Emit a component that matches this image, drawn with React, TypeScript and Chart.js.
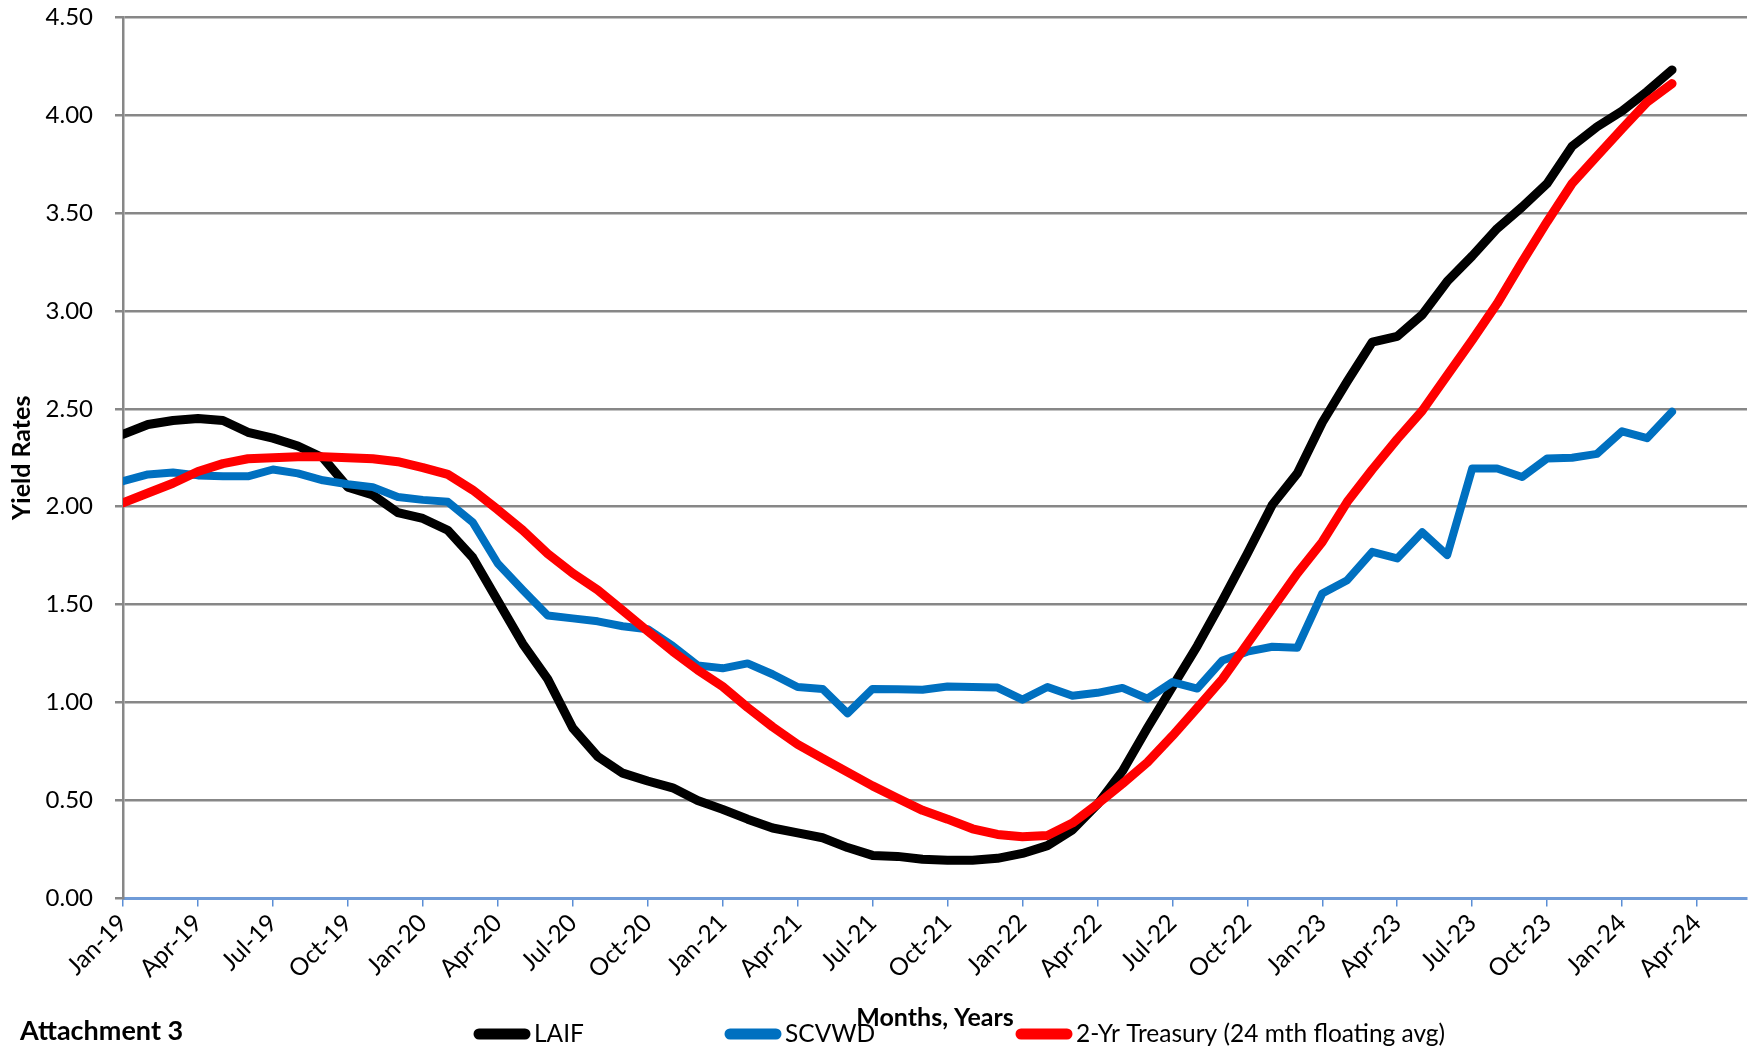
import React, { useEffect, useRef } from "react";
import { Chart, registerables } from "chart.js";

Chart.register(...registerables);

// Monthly values, Jan-19 .. Mar-24
const LAIF = [2.37, 2.42, 2.44, 2.45, 2.44, 2.38, 2.35, 2.31, 2.25, 2.10, 2.06, 1.97, 1.94, 1.88, 1.74, 1.52, 1.30, 1.12, 0.87, 0.725, 0.64, 0.60, 0.565, 0.50, 0.455, 0.405, 0.36, 0.335, 0.31, 0.26, 0.22, 0.215, 0.20, 0.195, 0.195, 0.205, 0.23, 0.27, 0.35, 0.48, 0.65, 0.87, 1.08, 1.29, 1.52, 1.76, 2.01, 2.17, 2.43, 2.64, 2.84, 2.87, 2.98, 3.15, 3.28, 3.42, 3.53, 3.65, 3.84, 3.94, 4.02, 4.12, 4.23];

const SCVWD = [2.13, 2.165, 2.175, 2.16, 2.155, 2.155, 2.19, 2.17, 2.135, 2.115, 2.10, 2.05, 2.035, 2.025, 1.92, 1.71, 1.575, 1.445, 1.43, 1.415, 1.39, 1.375, 1.29, 1.19, 1.175, 1.20, 1.145, 1.08, 1.07, 0.945, 1.07, 1.068, 1.066, 1.082, 1.08, 1.077, 1.015, 1.08, 1.035, 1.05, 1.075, 1.02, 1.105, 1.072, 1.215, 1.26, 1.285, 1.28, 1.557, 1.625, 1.77, 1.736, 1.87, 1.753, 2.195, 2.195, 2.152, 2.246, 2.25, 2.27, 2.385, 2.35, 2.485];

const TREASURY_2YR = [2.02, 2.07, 2.12, 2.18, 2.22, 2.245, 2.25, 2.255, 2.255, 2.25, 2.245, 2.23, 2.20, 2.165, 2.085, 1.985, 1.88, 1.76, 1.66, 1.575, 1.47, 1.365, 1.262, 1.167, 1.082, 0.975, 0.876, 0.787, 0.715, 0.645, 0.575, 0.512, 0.45, 0.405, 0.356, 0.327, 0.315, 0.322, 0.385, 0.482, 0.586, 0.695, 0.83, 0.974, 1.12, 1.30, 1.48, 1.66, 1.82, 2.025, 2.19, 2.345, 2.49, 2.67, 2.85, 3.037, 3.25, 3.455, 3.65, 3.79, 3.93, 4.065, 4.16];

// Quarterly tick labels (every 3 months from Jan-19)
const X_TICK_LABELS = [
  "Jan-19", "Apr-19", "Jul-19", "Oct-19",
  "Jan-20", "Apr-20", "Jul-20", "Oct-20",
  "Jan-21", "Apr-21", "Jul-21", "Oct-21",
  "Jan-22", "Apr-22", "Jul-22", "Oct-22",
  "Jan-23", "Apr-23", "Jul-23", "Oct-23",
  "Jan-24", "Apr-24",
];

const SERIES_NAMES = ["LAIF", "SCVWD", "2-Yr Treasury (24 mth floating avg)"];
const SERIES_COLORS = ["#000000", "#0070C0", "#FF0000"];

const FONT = "Lato, 'Open Sans', sans-serif";

const extrasPlugin = {
  id: "extras",
  afterDraw(chart: any) {
    const ctx = chart.ctx as CanvasRenderingContext2D;
    ctx.save();
    const legendX = [474, 725, 1016];
    const legendY = 1034;
    for (let k = 0; k < SERIES_NAMES.length; k++) {
      const x0 = legendX[k];
      ctx.beginPath();
      ctx.strokeStyle = SERIES_COLORS[k];
      ctx.lineWidth = 11;
      ctx.lineCap = "round";
      ctx.moveTo(x0 + 5, legendY);
      ctx.lineTo(x0 + 51, legendY);
      ctx.stroke();
      ctx.fillStyle = "#000";
      ctx.font = `24.5px ${FONT}`;
      ctx.textAlign = "left";
      ctx.textBaseline = "middle";
      ctx.fillText(SERIES_NAMES[k], x0 + 60, legendY);
    }
    ctx.font = `bold 27px ${FONT}`;
    ctx.fillStyle = "#000";
    ctx.textAlign = "left";
    ctx.textBaseline = "middle";
    ctx.fillText("Attachment 3", 20, 1031);
    ctx.restore();
  },
};

export default function App() {
  const canvasRef = useRef<HTMLCanvasElement | null>(null);

  useEffect(() => {
    document.body.style.margin = "0";
    const canvas = canvasRef.current;
    if (!canvas) return;
    const mk = (arr: number[]) => arr.map((y, i) => ({ x: i, y }));
    const lineStyle = {
      pointRadius: 0,
      tension: 0,
      borderJoinStyle: "round",
      borderCapStyle: "round",
      fill: false,
    };
    const chart = new Chart(canvas, {
      type: "line",
      data: {
        datasets: [
          {
            label: SERIES_NAMES[0],
            data: mk(LAIF),
            borderColor: SERIES_COLORS[0],
            backgroundColor: SERIES_COLORS[0],
            borderWidth: 9,
            order: 3,
            ...lineStyle,
          },
          {
            label: SERIES_NAMES[1],
            data: mk(SCVWD),
            borderColor: SERIES_COLORS[1],
            backgroundColor: SERIES_COLORS[1],
            borderWidth: 8,
            order: 2,
            ...lineStyle,
          },
          {
            label: SERIES_NAMES[2],
            data: mk(TREASURY_2YR),
            borderColor: SERIES_COLORS[2],
            backgroundColor: SERIES_COLORS[2],
            borderWidth: 9,
            order: 1,
            ...lineStyle,
          },
        ],
      },
      options: {
        responsive: false,
        animation: false,
        layout: { padding: { left: 0, top: 17, right: 3, bottom: 0 } },
        plugins: {
          legend: { display: false },
          tooltip: { enabled: false },
        },
        scales: {
          x: {
            type: "linear",
            min: 0,
            max: 65,
            afterBuildTicks: (s: any) => {
              s.ticks = X_TICK_LABELS.map((_, k) => ({ value: k * 3 }));
            },
            afterFit: (s: any) => {
              s.height = 153.5;
            },
            ticks: {
              autoSkip: false,
              maxRotation: 45,
              minRotation: 45,
              padding: 2,
              color: "#000",
              font: { family: FONT, size: 24.5 },
              callback: (v: any) => X_TICK_LABELS[Math.round(Number(v) / 3)] ?? "",
            },
            grid: {
              drawOnChartArea: false,
              drawTicks: true,
              tickLength: 8,
              tickColor: "#5a8ed6",
              lineWidth: 1.5,
            },
            border: { display: true, color: "#6f9bd8", width: 3, dash: [2, 2] },
            title: {
              display: true,
              text: "Months, Years",
              color: "#000",
              font: { family: FONT, size: 25, weight: "bold" },
              padding: { top: 0, bottom: 19 },
            },
          },
          y: {
            min: 0,
            max: 4.5,
            afterFit: (s: any) => {
              s.width = 123;
              s.paddingTop = 12;
              s.paddingBottom = 12;
            },
            ticks: {
              stepSize: 0.5,
              padding: 22,
              color: "#000",
              font: { family: FONT, size: 24 },
              callback: (v: any) => Number(v).toFixed(2),
            },
            grid: {
              color: (c: any) => (c.tick && c.tick.value === 0 ? "rgba(0,0,0,0)" : "#878787"),
              lineWidth: 2.5,
              drawTicks: true,
              tickLength: 8,
              tickColor: "#878787",
            },
            border: { display: true, color: "#878787", width: 2.5 },
            title: {
              display: true,
              text: "Yield Rates",
              color: "#000",
              font: { family: FONT, size: 25, weight: "bold" },
              padding: { top: 7, bottom: 0 },
            },
          },
        },
      },
      plugins: [extrasPlugin],
    } as any);
    return () => chart.destroy();
  }, []);

  return (
    <div style={{ width: 1750, height: 1052, background: "#fff" }}>
      <canvas ref={canvasRef} width={1750} height={1052} style={{ display: "block" }} />
    </div>
  );
}
